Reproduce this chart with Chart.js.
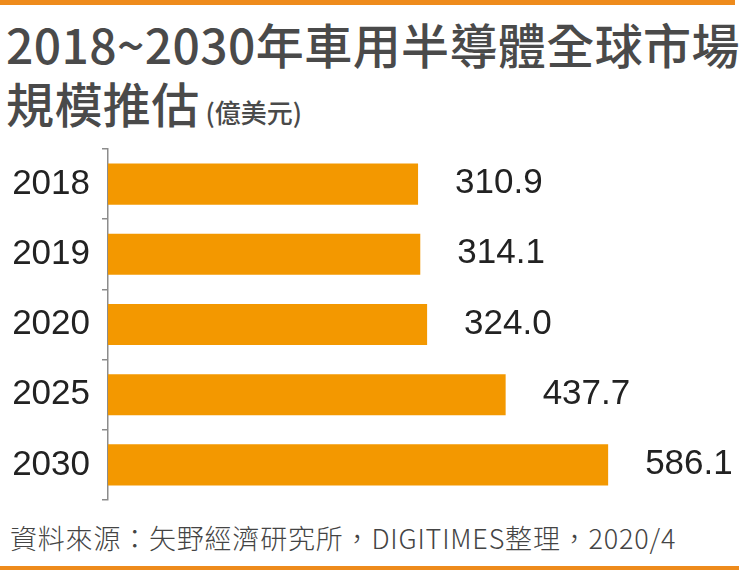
<!DOCTYPE html>
<html>
<head>
<meta charset="utf-8">
<script src="https://cdn.jsdelivr.net/npm/chart.js@4"></script>
<style>
  html, body { margin: 0; padding: 0; background: #ffffff; }
  #wrap { position: relative; width: 750px; height: 570px; overflow: hidden; background: #fff; }
  .bar-top { position: absolute; left: 0; top: 0; width: 735px; height: 5px; background: #EE8B1C; }
  .bar-bottom { position: absolute; left: 0; top: 566px; width: 739px; height: 4px; background: #EE8B1C; }
  .title { position: absolute; left: 6px; font-family: "Noto Sans CJK TC", "Noto Sans", sans-serif; font-weight: 500; color: #4a4a4a; font-size: 48px; line-height: 48px; white-space: nowrap; letter-spacing: 0.4px; }
  .title small { font-size: 26px; font-weight: 500; margin-left: 6px; letter-spacing: 0; }
  .source { position: absolute; left: 10px; top: 520px; font-family: "Noto Sans CJK TC", "Noto Sans", sans-serif; font-weight: 300; color: #444; font-size: 27px; line-height: 36px; white-space: nowrap; letter-spacing: 0.8px; }
  #chartBox { position: absolute; left: 0; top: 140px; width: 750px; height: 370px; }
</style>
</head>
<body>
<div id="wrap">
  <div class="bar-top"></div>
  <div class="title" style="top:19px;">2018~2030年車用半導體全球市場</div>
  <div class="title" style="top:78px;">規模推估<small>(億美元)</small></div>
  <div id="chartBox"><canvas id="c"></canvas></div>
  <div class="source">資料來源：矢野經濟研究所，DIGITIMES整理，2020/4</div>
  <div class="bar-bottom"></div>
</div>
<script>
const years = ["2018", "2019", "2020", "2025", "2030"];
const marketValues = [310.9, 314.1, 324.0, 437.7, 586.1];

const axisMin = -138;
const axisMax = 777;

const valueLabels = {
  id: 'valueLabels',
  afterDatasetsDraw(chart) {
    const ctx = chart.ctx;
    const meta = chart.getDatasetMeta(0);
    ctx.save();
    ctx.font = '35px "Liberation Sans", Arial, sans-serif';
    ctx.fillStyle = '#222222';
    ctx.textAlign = 'left';
    ctx.textBaseline = 'alphabetic';
    meta.data.forEach((bar, i) => {
      ctx.fillText(marketValues[i].toFixed(1), bar.x + 37, bar.y + 9);
    });
    ctx.restore();
  }
};

new Chart(document.getElementById('c'), {
  type: 'bar',
  data: {
    labels: years,
    datasets: [{
      data: marketValues,
      base: axisMin,
      backgroundColor: '#F39800',
      borderWidth: 0,
      categoryPercentage: 1,
      barPercentage: 0.585
    }]
  },
  options: {
    indexAxis: 'y',
    responsive: true,
    maintainAspectRatio: false,
    animation: false,
    layout: { padding: { top: 9, bottom: 10, left: 0, right: 10 } },
    plugins: { legend: { display: false }, tooltip: { enabled: false }, title: { display: false } },
    scales: {
      x: { display: false, min: axisMin, max: axisMax },
      y: {
        afterFit(scale) { scale.width = 108; scale.paddingTop = 0; scale.paddingBottom = 0; },
        grid: { display: true, drawOnChartArea: false, drawTicks: true, tickLength: 6, color: '#8c8c8c', lineWidth: 1.5, offset: true },
        border: { display: true, color: '#8c8c8c', width: 1.5 },
        ticks: { color: '#222222', padding: 12, font: { family: '"Liberation Sans", Arial, sans-serif', size: 35 } }
      }
    }
  },
  plugins: [valueLabels]
});
</script>
</body>
</html>
